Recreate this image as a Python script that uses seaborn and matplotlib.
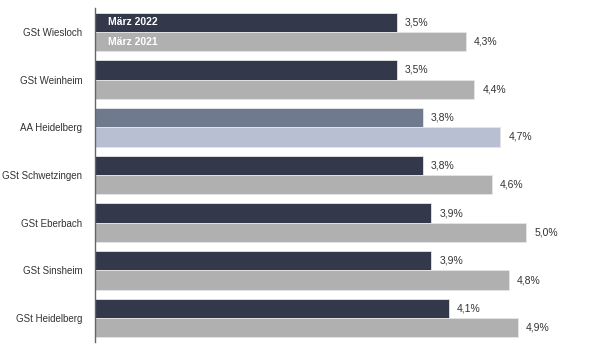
import matplotlib
matplotlib.use("Agg")
import matplotlib.pyplot as plt
import seaborn as sns
import pandas as pd

categories = ["GSt Wiesloch", "GSt Weinheim", "AA Heidelberg", "GSt Schwetzingen",
              "GSt Eberbach", "GSt Sinsheim", "GSt Heidelberg"]
series_names = ["März 2022", "März 2021"]
values_2022 = [3.5, 3.5, 3.8, 3.8, 3.9, 3.9, 4.1]
values_2021 = [4.3, 4.4, 4.7, 4.6, 5.0, 4.8, 4.9]
highlight = "AA Heidelberg"

df = pd.DataFrame({
    "Dienststelle": categories * 2,
    "Zeitraum": [series_names[0]] * len(categories) + [series_names[1]] * len(categories),
    "Quote": values_2022 + values_2021,
})

sns.set_style("white")
plt.rcParams["font.family"] = ["Liberation Sans", "DejaVu Sans"]

fig = plt.figure(figsize=(5.96, 3.5), dpi=100)
ax = fig.add_axes([95 / 596, 8 / 350, 1 - 95 / 596, 334 / 350])

palette = {series_names[0]: "#2f374f", series_names[1]: "#b0b0b0"}
hl_colors = {series_names[0]: "#6f7a8e", series_names[1]: "#b8bfd3"}

sns.barplot(data=df, y="Dienststelle", x="Quote", hue="Zeitraum", order=categories,
            hue_order=series_names, palette=palette, orient="h", width=0.81,
            edgecolor="#e6e6e6", linewidth=0.6, legend=False, ax=ax)

hi = categories.index(highlight)
for container, name in zip(ax.containers, series_names):
    container.patches[hi].set_facecolor(hl_colors[name])
    vals = values_2022 if name == series_names[0] else values_2021
    labels = [f"{v:.1f}%".replace(".", ",") for v in vals]
    ax.bar_label(container, labels=labels, padding=6, fontsize=7.5, color="#333333")

# in-bar series labels on first group
first_bars = [c.patches[0] for c in ax.containers]
for bar, name in zip(first_bars, series_names):
    ax.text(0.15, bar.get_y() + bar.get_height() / 2, name, color="white",
            fontsize=7.5, fontweight="bold", va="center", ha="left")

ax.set_xlim(0, 5.81)
ax.set_ylim(6.5, -0.5)
ax.set_xlabel("")
ax.set_ylabel("")
ax.set_xticks([])
ax.tick_params(axis="y", length=0, pad=9, labelsize=7, labelcolor="#333333")
for s in ["top", "right", "bottom"]:
    ax.spines[s].set_visible(False)
ax.spines["left"].set_color("#666666")
ax.spines["left"].set_linewidth(1.0)

fig.savefig("out.png", dpi=100)
